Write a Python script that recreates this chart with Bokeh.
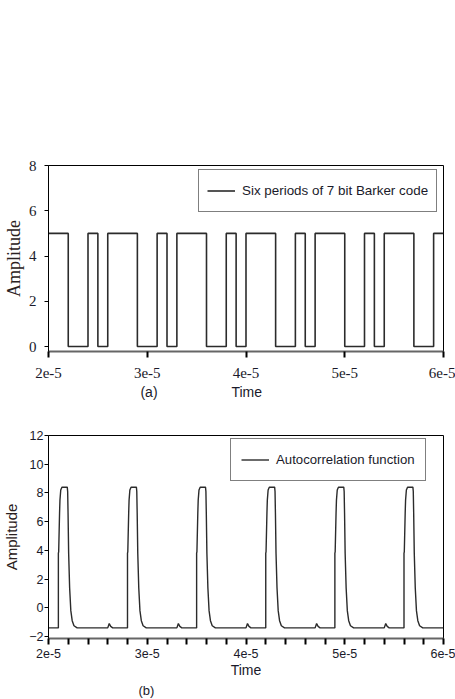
from bokeh.plotting import figure
from bokeh.layouts import column
from bokeh.models import FixedTicker, CustomJSTickFormatter, Legend, Title
from bokeh.embed import file_html
from bokeh.resources import INLINE

# ---------------- data ----------------
barker_edges = [2.0e-5, 2.2e-5, 2.4e-5, 2.5e-5, 2.6e-5, 2.9e-5, 3.1e-5, 3.2e-5,
                3.3e-5, 3.6e-5, 3.8e-5, 3.9e-5, 4.0e-5, 4.3e-5, 4.5e-5, 4.6e-5,
                4.7e-5, 5.0e-5, 5.2e-5, 5.3e-5, 5.4e-5, 5.7e-5, 5.9e-5, 6.0e-5]
barker_levels = [5, 0, 5, 0, 5, 0, 5, 0, 5, 0, 5, 0, 5, 0, 5, 0, 5, 0, 5, 0, 5, 0, 5, 5]

acf_baseline = -1.4
acf_start, acf_end = 2.0e-5, 6.0e-5
peak_starts = [2.1e-5, 2.8e-5, 3.5e-5, 4.2e-5, 4.9e-5, 5.6e-5]
peak_offsets = [0.0, 0.0, 0.003e-5, 0.012e-5, 0.016e-5, 0.024e-5, 0.036e-5, 0.090e-5,
                0.094e-5, 0.098e-5, 0.104e-5, 0.114e-5, 0.126e-5, 0.140e-5, 0.158e-5, 0.19e-5]
peak_values = [-1.4, 3.8, 3.9, 6.6, 7.5, 8.2, 8.4, 8.4,
               8.1, 6.6, 3.8, 1.4, -0.2, -0.9, -1.25, -1.4]
bump_times = [2.6e-5, 3.3e-5, 4.0e-5, 4.7e-5, 5.4e-5]
bump_offsets = [0.0, 0.015e-5, 0.03e-5, 0.05e-5]
bump_values = [-1.4, -1.1, -1.3, -1.4]

x_ticks = [2e-5, 3e-5, 4e-5, 5e-5, 6e-5]
x_minor_b = [2.2e-5, 2.4e-5, 2.6e-5, 2.8e-5, 3.2e-5, 3.4e-5, 3.6e-5, 3.8e-5,
             4.2e-5, 4.4e-5, 4.6e-5, 4.8e-5, 5.2e-5, 5.4e-5, 5.6e-5, 5.8e-5]
y_ticks_a = [0, 2, 4, 6, 8]
y_ticks_b = [-2, 0, 2, 4, 6, 8, 10, 12]

events = [(s, peak_offsets, peak_values) for s in peak_starts] + \
         [(s, bump_offsets, bump_values) for s in bump_times]
events.sort(key=lambda e: e[0])
acf_t = [acf_start]
acf_y = [acf_baseline]
for s, offs, vals in events:
    for o, v in zip(offs, vals):
        acf_t.append(s + o)
        acf_y.append(v)
acf_t.append(acf_end)
acf_y.append(acf_baseline)

fmt = CustomJSTickFormatter(code="return Math.round(tick*1e5) + 'e-5';")

SERIF = "Liberation Serif"
SANS = "Liberation Sans"
NB = "\u00a0"
TXT = "#1a1a2a"

W = 455

# ---------------- figure (a) ----------------
p1 = figure(width=W, height=410, x_range=(2e-5, 6e-5), y_range=(-0.22, 8),
            output_backend="svg", toolbar_location=None,
            min_border_left=45, min_border_right=12, min_border_top=165, min_border_bottom=59)
r1 = p1.step(barker_edges, barker_levels, mode="after", line_color="#2b2b2b", line_width=1.6)

p1.xgrid.visible = False
p1.ygrid.visible = False
p1.outline_line_color = "black"
p1.outline_line_width = 1

xa = p1.xaxis[0]
xa.ticker = FixedTicker(ticks=x_ticks, minor_ticks=[])
xa.formatter = fmt
xa.axis_line_color = "#666666"
xa.axis_line_width = 2
xa.major_tick_in = 0
xa.major_tick_out = 6
xa.major_tick_line_width = 2
xa.major_tick_line_color = "black"
xa.minor_tick_out = 0
xa.minor_tick_in = 0
xa.major_label_text_font = SERIF
xa.major_label_text_font_size = "15px"
xa.major_label_text_color = TXT
xa.major_label_standoff = 10
xa.axis_label = "(a)" + NB * 19 + "Time" + NB * 23
xa.axis_label_text_font = SANS
xa.axis_label_text_font_size = "14px"
xa.axis_label_text_font_style = "normal"
xa.axis_label_text_color = TXT
xa.axis_label_standoff = 3

ya = p1.yaxis[0]
ya.ticker = FixedTicker(ticks=y_ticks_a, minor_ticks=[])
ya.axis_line_color = "black"
ya.major_tick_in = 0
ya.major_tick_out = 4
ya.major_tick_line_color = "black"
ya.minor_tick_out = 0
ya.minor_tick_in = 0
ya.major_label_text_font = SERIF
ya.major_label_text_font_size = "15px"
ya.major_label_text_color = TXT
ya.major_label_standoff = 8
ya.axis_label = "Amplitude"
ya.axis_label_text_font = SERIF
ya.axis_label_text_font_size = "18px"
ya.axis_label_text_font_style = "normal"
ya.axis_label_text_color = "#2a2020"
ya.axis_label_standoff = 2

leg1 = Legend(items=[("Six periods of 7 bit Barker code", [r1])], location=(150, 139),
              border_line_color="black", border_line_width=1.5, padding=8, margin=0,
              spacing=0, glyph_width=28, glyph_height=25, label_height=25, label_standoff=7,
              label_text_font=SANS, label_text_font_size="13.4px",
              label_text_color=TXT, background_fill_alpha=1)
p1.add_layout(leg1)

# ---------------- figure (b) ----------------
p2 = figure(width=W, height=289, x_range=(2e-5, 6e-5), y_range=(-2.14, 12),
            output_backend="svg", toolbar_location=None,
            min_border_left=45, min_border_right=12, min_border_top=25, min_border_bottom=61)
r2 = p2.line(acf_t, acf_y, line_color="#2b2b2b", line_width=1.4)

p2.xgrid.visible = False
p2.ygrid.visible = False
p2.outline_line_color = "black"
p2.outline_line_width = 1

xb = p2.xaxis[0]
xb.ticker = FixedTicker(ticks=x_ticks, minor_ticks=x_minor_b)
xb.formatter = fmt
xb.axis_line_color = "#666666"
xb.axis_line_width = 2
xb.major_tick_in = 0
xb.major_tick_out = 6
xb.major_tick_line_width = 2
xb.major_tick_line_color = "black"
xb.minor_tick_in = 0
xb.minor_tick_out = 6
xb.minor_tick_line_width = 2
xb.minor_tick_line_color = "black"
xb.major_label_text_font = SANS
xb.major_label_text_font_size = "12.5px"
xb.major_label_text_color = TXT
xb.major_label_standoff = 4
xb.axis_label = "Time"
xb.axis_label_text_font = SANS
xb.axis_label_text_font_size = "14px"
xb.axis_label_text_font_style = "normal"
xb.axis_label_text_color = TXT
xb.axis_label_standoff = 1

yb = p2.yaxis[0]
yb.ticker = FixedTicker(ticks=y_ticks_b, minor_ticks=[])
yb.axis_line_color = "black"
yb.major_tick_in = 0
yb.major_tick_out = 4
yb.major_tick_line_color = "black"
yb.minor_tick_in = 0
yb.minor_tick_out = 0
yb.major_label_text_font = SANS
yb.major_label_text_font_size = "12.5px"
yb.major_label_text_color = TXT
yb.major_label_standoff = 1
yb.axis_label = "Amplitude"
yb.axis_label_text_font = SANS
yb.axis_label_text_font_size = "15px"
yb.axis_label_text_font_style = "normal"
yb.axis_label_text_color = "#2a2020"
yb.axis_label_standoff = 6

leg2 = Legend(items=[("Autocorrelation function", [r2])], location=(182, 157),
              border_line_color="black", border_line_width=1.5, padding=10, margin=0,
              spacing=0, glyph_width=28, glyph_height=21, label_height=21, label_standoff=7,
              label_text_font=SANS, label_text_font_size="13.2px",
              label_text_color=TXT, background_fill_alpha=1)
p2.add_layout(leg2)

p2.add_layout(Title(text="(b)", align="left", offset=90, text_font=SANS,
                    text_font_size="13px", text_font_style="normal", text_color=TXT,
                    standoff=0), "below")

layout = column(p1, p2, spacing=0)
open("out.html", "w").write(file_html(layout, INLINE))
